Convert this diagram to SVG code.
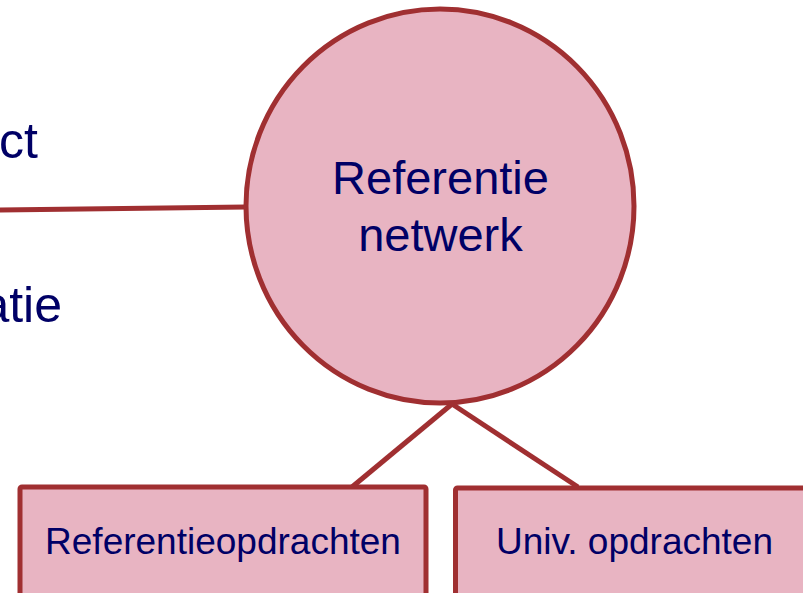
<svg xmlns="http://www.w3.org/2000/svg" width="803" height="593" viewBox="0 0 803 593">
<style>
.shape{fill:#E8B4C2;stroke:#A02F31;stroke-width:5}
.conn{stroke:#A02F31;stroke-width:5;fill:none}
text{font-family:"Liberation Sans",Arial,sans-serif;fill:#000066}
.big{font-size:50px}
.main{font-size:47px;text-anchor:middle}
.box{font-size:37px;text-anchor:middle}
</style>
<rect width="803" height="593" fill="#FFFFFF"/>
<g id="left-labels">
<text class="big" x="38" y="158" text-anchor="end">ct</text>
<text class="big" x="62" y="322" text-anchor="end">atie</text>
</g>
<g id="connectors">
<line class="conn" x1="-2" y1="210" x2="246" y2="207"/>
<line class="conn" x1="452" y1="404" x2="352" y2="487"/>
<line class="conn" x1="452" y1="404" x2="578" y2="487"/>
</g>
<g id="node-referentienetwerk">
<ellipse class="shape" cx="440" cy="206" rx="194" ry="197"/>
<text class="main" x="440.5" y="194">Referentie</text>
<text class="main" x="440.5" y="251">netwerk</text>
</g>
<g id="node-referentieopdrachten">
<rect class="shape" x="20" y="487" width="406" height="120" rx="2"/>
<text class="box" x="223" y="554">Referentieopdrachten</text>
</g>
<g id="node-univ-opdrachten">
<rect class="shape" x="455.5" y="488" width="358" height="120" rx="2"/>
<text class="box" x="634.5" y="554">Univ. opdrachten</text>
</g>
</svg>
